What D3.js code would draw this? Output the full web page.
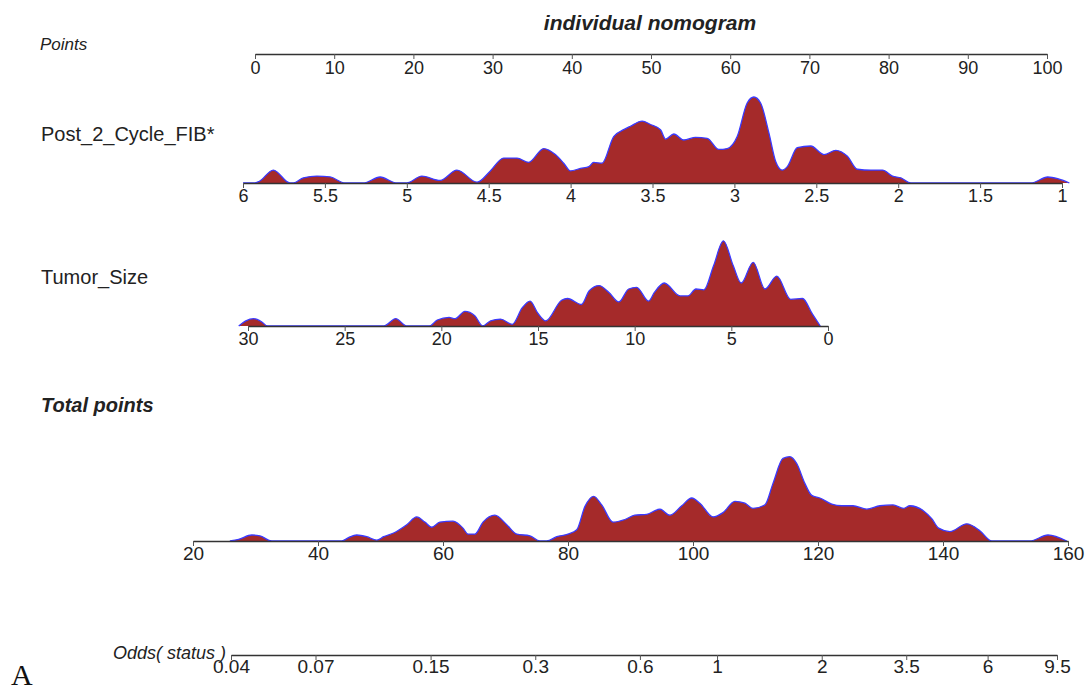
<!DOCTYPE html>
<html>
<head>
<meta charset="utf-8">
<script src="https://cdn.jsdelivr.net/npm/d3@7"></script>
<style>
  body { margin: 0; background: #fff; }
  svg text { font-family: "Liberation Sans", Arial, sans-serif; fill: #222; }
  .tick text { font-family: "Liberation Sans Narrow", "Arial Narrow", "Liberation Sans", sans-serif; font-stretch: condensed; }
</style>
</head>
<body>
<div id="vis"></div>
<script>
// axis ticks
var pointsTicks = [0, 10, 20, 30, 40, 50, 60, 70, 80, 90, 100];
var fibTicks = [6, 5.5, 5, 4.5, 4, 3.5, 3, 2.5, 2, 1.5, 1];
var tumorTicks = [30, 25, 20, 15, 10, 5, 0];
var totalTicks = [20, 40, 60, 80, 100, 120, 140, 160];
var oddsTicks = [0.04, 0.07, 0.15, 0.3, 0.6, 1, 2, 3.5, 6, 9.5];

// density outlines: [value, relative density (peak ~100)]
var fibDensity = [
  [6.00, 0], [5.93, 0], [5.90, 2], [5.815, 15], [5.713, 0], [5.692, 0], [5.631, 6], [5.549, 8],
  [5.468, 7], [5.377, 0], [5.265, 0], [5.163, 7], [5.061, 0], [5.0, 0], [4.908, 8], [4.796, 3],
  [4.694, 15], [4.571, 1], [4.49, 14], [4.409, 29], [4.327, 29], [4.256, 24], [4.164, 40],
  [4.093, 33], [4.042, 23], [4.001, 14], [3.94, 17], [3.889, 19], [3.859, 24], [3.808, 23],
  [3.737, 54], [3.676, 62], [3.635, 66], [3.563, 72], [3.512, 68], [3.451, 62], [3.42, 51],
  [3.37, 57], [3.309, 50], [3.237, 53], [3.166, 52], [3.095, 39], [3.044, 40], [2.983, 54],
  [2.922, 93], [2.881, 100], [2.84, 93], [2.789, 58], [2.748, 25], [2.708, 15], [2.677, 19],
  [2.616, 41], [2.534, 43], [2.453, 33], [2.381, 38], [2.31, 31], [2.249, 16], [2.167, 15],
  [2.096, 15], [2.035, 8], [1.984, 6], [1.923, 0], [1.189, 0], [1.087, 7], [1.026, 5], [0.955, 0]
];
var tumorDensity = [
  [30.48, 0], [30.11, 6], [29.71, 8.5], [29.30, 5], [28.99, 0], [22.97, 0], [22.36, 8.5],
  [21.78, 0], [20.62, 0], [20.21, 7], [19.60, 10], [19.29, 8.5], [18.78, 17], [18.27, 12],
  [17.86, 0], [17.45, 6], [16.94, 8], [16.33, 2], [15.82, 21], [15.41, 29], [15.01, 15],
  [14.60, 6], [13.78, 30], [13.47, 32], [12.75, 25], [12.35, 41], [11.84, 47], [11.33, 39],
  [10.82, 28], [10.31, 43], [9.90, 45], [9.28, 29], [8.98, 39], [8.47, 50], [7.65, 35],
  [7.24, 35], [6.83, 43], [6.42, 42], [5.92, 70], [5.41, 99], [4.90, 70], [4.49, 50],
  [3.87, 74], [3.26, 43], [2.65, 58], [1.93, 31], [1.32, 32], [0.81, 14], [0.40, 0]
];
var totalDensity = [
  [25.9, 0], [27.3, 2], [29.4, 7], [30.7, 6], [32.6, 0], [43.8, 0], [44.9, 4], [46.2, 7],
  [47.8, 5], [49.4, 1], [50.5, 5], [52.0, 9], [54.2, 19], [55.8, 28], [57.1, 22], [58.2, 16],
  [59.5, 22], [61.6, 23], [63.2, 15], [64.0, 8], [65.1, 8], [66.4, 22], [68.3, 30], [70.2, 19],
  [71.8, 8], [73.9, 6], [75.5, 0], [76.6, 0], [78.2, 5], [80.0, 8], [81.4, 13], [82.7, 40],
  [84.1, 52], [85.4, 42], [87.2, 22], [89.1, 25], [90.7, 30], [92.6, 31], [94.7, 37],
  [96.3, 30], [98.2, 41], [99.8, 50], [101.1, 44], [103.2, 28], [104.8, 33], [106.7, 46],
  [108.3, 44], [109.6, 38], [111.5, 42], [112.8, 67], [114.4, 96], [115.5, 98], [116.6, 90],
  [117.9, 67], [119.0, 53], [120.3, 50], [122.2, 43], [123.8, 41], [125.6, 41], [127.8, 37],
  [129.9, 41], [132.0, 42], [133.7, 38], [134.7, 41], [136.9, 35], [138.2, 26], [139.3, 15],
  [141.1, 11], [143.8, 20], [145.9, 12], [147.8, 0], [153.9, 0], [156.8, 7], [159.8, 0]
];

var svg = d3.select("#vis").append("svg")
  .attr("width", 1089)
  .attr("height", 691);

var pointsX = d3.scaleLinear().domain([0, 100]).range([255, 1047]);
var fibX = d3.scaleLinear().domain([6, 1]).range([243, 1062]);
var tumorX = d3.scaleLinear().domain([30, 0]).range([248, 828]);
var totalX = d3.scaleLinear().domain([20, 160]).range([193, 1068]);
var oddsX = d3.scaleLog().domain([0.04, 9.5]).range([231, 1057]);
var densH = d3.scaleLinear().domain([0, 100]).range([0, 86]);

function drawDensity(data, x, base) {
  var area = d3.area()
    .x(function (d) { return x(d[0]); })
    .y0(base)
    .y1(function (d) { return base - densH(d[1]); })
    .curve(d3.curveMonotoneX);
  var line = d3.line()
    .x(function (d) { return x(d[0]); })
    .y(function (d) { return base - densH(d[1]); })
    .curve(d3.curveMonotoneX);
  svg.append("path").attr("d", area(data)).attr("fill", "#A52A2A");
  svg.append("path").attr("d", line(data))
    .attr("fill", "none").attr("stroke", "#3a3aff").attr("stroke-width", 1.3);
}

function drawAxis(scale, ticks, y, fontSize, pad) {
  var g = svg.append("g")
    .attr("transform", "translate(0," + y + ")")
    .call(d3.axisBottom(scale)
      .tickValues(ticks)
      .tickFormat(function (d) { return String(d); })
      .tickSize(5)
      .tickSizeOuter(0)
      .tickPadding(pad));
  g.select(".domain").attr("stroke", "#333").attr("stroke-width", 1.3);
  g.selectAll(".tick line").attr("stroke", "#555");
  g.selectAll(".tick text").attr("fill", "#222").style("font-size", fontSize + "px");
  return g;
}

// title
svg.append("text")
  .attr("x", 650).attr("y", 30)
  .attr("text-anchor", "middle")
  .style("font-size", "21px").style("font-weight", "bold").style("font-style", "italic")
  .text("individual nomogram");

// Points
svg.append("text").attr("x", 40).attr("y", 50)
  .style("font-size", "17px").style("font-style", "italic").text("Points");
drawAxis(pointsX, pointsTicks, 54, 18, 2);

// Post_2_Cycle_FIB*
svg.append("text").attr("x", 41).attr("y", 141)
  .style("font-size", "20px").text("Post_2_Cycle_FIB*");
drawDensity(fibDensity, fibX, 183);
drawAxis(fibX, fibTicks, 183, 18, 1);

// Tumor_Size
svg.append("text").attr("x", 41).attr("y", 284)
  .style("font-size", "20px").text("Tumor_Size");
drawDensity(tumorDensity, tumorX, 326);
drawAxis(tumorX, tumorTicks, 326, 18, 1);

// Total points
svg.append("text").attr("x", 41).attr("y", 412)
  .style("font-size", "20px").style("font-weight", "bold").style("font-style", "italic")
  .text("Total points");
drawDensity(totalDensity, totalX, 541);
drawAxis(totalX, totalTicks, 541, 19, 1);

// Odds
svg.append("text").attr("x", 226).attr("y", 659)
  .attr("text-anchor", "end")
  .style("font-size", "18px").style("font-style", "italic")
  .text("Odds( status )");
drawAxis(oddsX, oddsTicks, 655, 19, 0);

// panel letter
svg.append("text").attr("x", 11).attr("y", 685)
  .style("font-family", "'Liberation Serif', 'Times New Roman', serif")
  .style("font-size", "30px").style("fill", "#111")
  .text("A");
</script>
</body>
</html>
